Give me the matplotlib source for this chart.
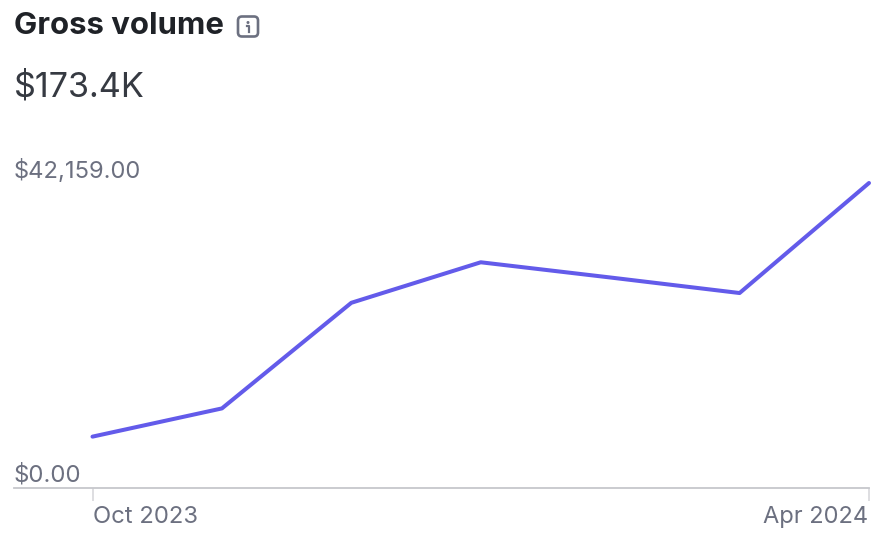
import matplotlib
matplotlib.use("Agg")
import matplotlib.pyplot as plt
from matplotlib.patches import FancyBboxPatch, Circle

plt.rcParams['font.family'] = ['Inter', 'DejaVu Sans']

W, H = 894, 550

# monthly points, Oct 2023 .. Apr 2024
months = ["Oct 2023", "Nov 2023", "Dec 2023", "Jan 2024", "Feb 2024", "Mar 2024", "Apr 2024"]
values = [7100, 11000, 25600, 31200, 29100, 26950, 42159]
tick_labels = ["Oct 2023", "Apr 2024"]
y_top_label = "$42,159.00"
y_bottom_label = "$0.00"

fig = plt.figure(figsize=(W / 100, H / 100), dpi=100)

# overlay in pixel coordinates for the little info icon
ax = fig.add_axes([0, 0, 1, 1])
ax.set_xlim(0, W)
ax.set_ylim(H, 0)
ax.axis("off")

plot_ax = fig.add_axes([13.5 / W, 1 - 488 / H, (869 - 13.5) / W, (488 - 170) / H])
plot_ax.patch.set_alpha(0)
x = list(range(len(months)))
# axis starts a little left of the first point
step = (869 - 92.5) / 6
plot_ax.set_xlim(-(92.5 - 13.5) / step, 6)
plot_ax.set_ylim(0, 43955)
plot_ax.plot(x, values, color="#635bea", linewidth=2.9, solid_capstyle="round", solid_joinstyle="round", clip_on=False)

for s in ["top", "left", "right"]:
    plot_ax.spines[s].set_visible(False)
plot_ax.spines["bottom"].set_color("#c6c7cc")
plot_ax.spines["bottom"].set_linewidth(1.3)
plot_ax.set_yticks([])
plot_ax.set_xticks([0, 6])
plot_ax.set_xticklabels([])
plot_ax.tick_params(axis="x", length=9, width=1.1, color="#d4d5d9")

label_color = "#6c7080"
fig.text(93 / W, 1 - 517 / H, tick_labels[0], color=label_color, fontsize=17.2, va="center", ha="left")
fig.text(868 / W, 1 - 517 / H, tick_labels[1], color=label_color, fontsize=17.0, va="center", ha="right")
fig.text(13.5 / W, 1 - 171 / H, y_top_label, color=label_color, fontsize=17.1, va="center", ha="left")
fig.text(13.5 / W, 1 - 475 / H, y_bottom_label, color=label_color, fontsize=17.3, va="center", ha="left")

fig.text(13.5 / W, 1 - 26 / H, "Gross volume", color="#1f2227", fontsize=22.4, fontweight="bold", va="center", ha="left")
fig.text(13.5 / W, 1 - 87 / H, "$173.4K", color="#363a42", fontsize=24.6, va="center", ha="left")

# info icon
icon_color = "#6c7080"
ax.add_patch(FancyBboxPatch((238, 16.5), 20, 20, boxstyle="round,pad=0,rounding_size=4",
                            fc="none", ec=icon_color, lw=1.9))
ax.add_patch(Circle((248, 22.5), 1.5, fc=icon_color, ec="none"))
ax.plot([246.5, 248.5, 248.5], [26, 26, 31.5], color=icon_color, lw=1.6)

fig.savefig("out.png", dpi=100)
